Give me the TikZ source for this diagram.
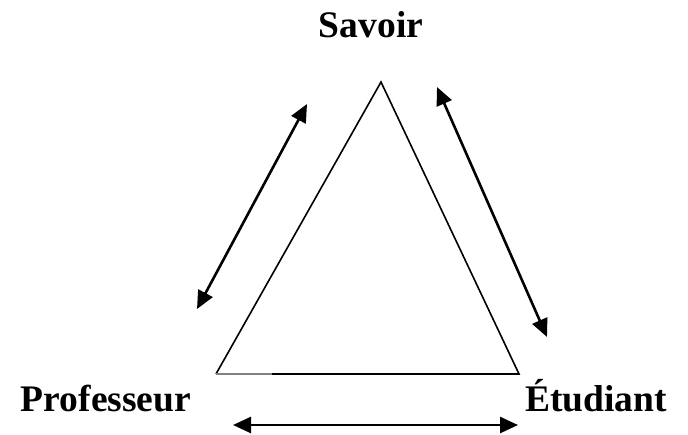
\documentclass[tikz,border=0pt]{standalone}
\usepackage{fontspec}
\setmainfont{Liberation Serif}
\usetikzlibrary{arrows.meta}
\begin{document}
\begin{tikzpicture}[x=1pt,y=-1pt,
  lbl/.style={font=\fontsize{37.5}{40}\selectfont\bfseries, inner sep=0pt, anchor=base},
  tri/.style={line width=1.6pt, line join=miter},
  dbl/.style={line width=2.6pt, {Triangle[length=18pt,width=16pt]}-{Triangle[length=18pt,width=16pt]}}]
\useasboundingbox (0,0) rectangle (688,434);
\coordinate (S) at (381,82);
\coordinate (P) at (216,374);
\coordinate (E) at (519,374);
\coordinate (G) at (272,374);
\draw[tri] (G) -- (E) -- (S) -- (P);
\draw[tri, gray] (P) -- (G);
\node[lbl] (sav) at (371,37) {Savoir};
\node[lbl] (prof) at (106,411) {Professeur};
\node[lbl] (etu) at (596,411) {Étudiant};
\coordinate (a1) at (197,309);
\coordinate (a2) at (307,104);
\coordinate (b1) at (437,87);
\coordinate (b2) at (547,337);
\coordinate (c1) at (233,425);
\coordinate (c2) at (518,425);
\draw[dbl] (a1) -- (a2);
\draw[dbl] (b1) -- (b2);
\draw[dbl] (c1) -- (c2);
\end{tikzpicture}
\end{document}
